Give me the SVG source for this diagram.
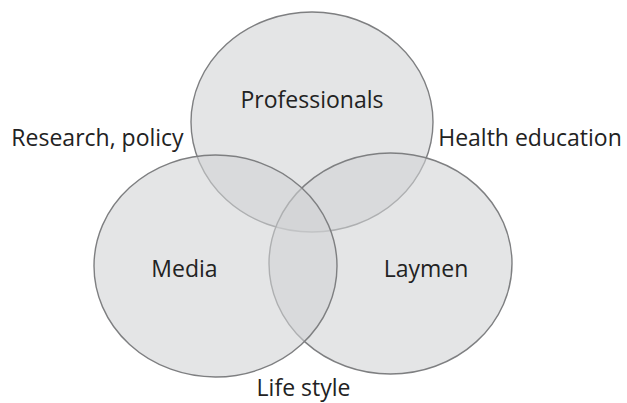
<svg xmlns="http://www.w3.org/2000/svg" width="627" height="403" viewBox="0 0 627 403">
  <style>
    .set { fill: #d1d2d4; fill-opacity: 0.58; stroke: #7e7f81; stroke-width: 1.4; }
    .lbl { font-family: "Open Sans", "Noto Sans", sans-serif; font-size: 23px; fill: #222222; }
  </style>
  <rect width="627" height="403" fill="#ffffff"/>
  <g id="professionals">
    <ellipse class="set" cx="312" cy="122" rx="121" ry="110"/>
    <text class="lbl" x="312" y="108" text-anchor="middle">Professionals</text>
  </g>
  <g id="laymen">
    <ellipse class="set" cx="390.5" cy="263.5" rx="121.5" ry="110.5"/>
    <text class="lbl" x="426" y="277" text-anchor="middle">Laymen</text>
  </g>
  <g id="media">
    <ellipse class="set" cx="215.5" cy="266" rx="121.5" ry="111"/>
    <text class="lbl" x="184.5" y="277" text-anchor="middle">Media</text>
  </g>
  <g id="edges"></g>
  <text class="lbl" x="97.5" y="146" text-anchor="middle">Research, policy</text>
  <text class="lbl" x="530" y="146" text-anchor="middle">Health education</text>
  <text class="lbl" x="303.5" y="396" text-anchor="middle">Life style</text>
</svg>
